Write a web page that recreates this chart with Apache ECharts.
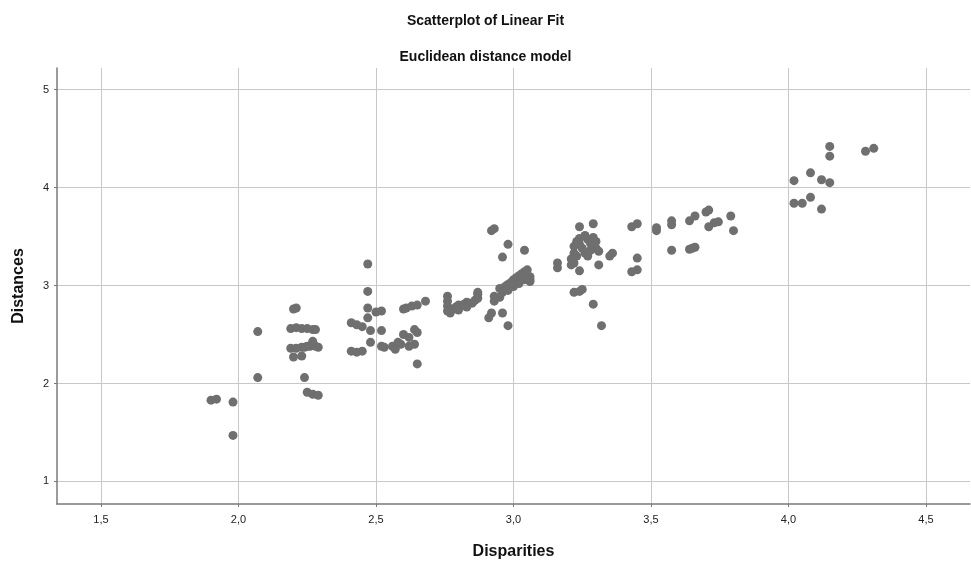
<!DOCTYPE html>
<html>
<head>
<meta charset="utf-8">
<script src="https://cdn.jsdelivr.net/npm/echarts@6/dist/echarts.min.js"></script>
<style>
html,body{margin:0;padding:0;background:#fff;}
#chart{width:971px;height:565px;}
</style>
</head>
<body>
<div id="chart"></div>
<script>
// left to right by cluster
const disparities=[
  1.90,1.92,1.98,1.98,2.07,2.07,2.20,2.21,
  2.19,2.21,2.23,2.25,2.27,2.28,
  2.19,2.21,2.23,2.24,2.25,2.26,2.27,2.28,2.29,2.27,
  2.20,2.23,2.24,2.25,2.27,2.29,
  2.47,2.47,2.47,2.52,2.50,2.47,2.41,2.43,2.45,2.48,2.52,2.48,2.52,2.53,2.41,2.43,2.45,
  2.60,2.61,2.63,2.65,2.68,
  2.56,2.57,2.59,2.60,2.62,2.64,2.65,2.64,2.62,2.58,2.65,
  2.76,2.76,2.76,2.76,2.77,2.78,2.79,2.80,2.81,2.82,2.83,2.84,2.85,2.86,2.87,2.87,2.87,2.83,2.80,
  2.92,2.93,2.98,3.04,2.96,2.93,2.93,2.92,2.91,2.96,2.98,3.06,
  2.95,2.97,2.98,2.99,3.00,3.01,3.02,3.03,3.04,3.05,2.96,2.98,3.00,3.02,3.04,3.06,3.06,2.95,
  3.16,3.16,
  3.21,3.22,3.22,3.23,3.24,3.26,3.27,3.28,3.29,3.30,3.31,3.30,3.29,3.25,3.26,3.27,3.23,3.22,3.28,3.24,
  3.24,3.29,3.24,3.31,3.21,3.35,3.36,3.43,3.45,3.45,3.43,3.45,3.52,3.52,3.575,3.575,3.575,3.22,3.24,3.25,3.29,3.32,
  3.64,3.66,3.71,3.70,3.71,3.73,3.745,3.79,3.80,3.64,3.66,3.65,
  4.02,4.05,4.15,4.15,4.28,4.31,4.02,4.08,4.12,4.15,4.08,4.12
];
const distances=[
  1.83,1.84,1.81,1.47,2.53,2.06,2.76,2.77,
  2.56,2.57,2.56,2.56,2.55,2.55,
  2.36,2.36,2.37,2.37,2.38,2.38,2.39,2.38,2.37,2.43,
  2.27,2.28,2.06,1.91,1.89,1.88,
  3.22,2.94,2.77,2.74,2.73,2.67,2.62,2.60,2.58,2.54,2.54,2.42,2.38,2.37,2.33,2.32,2.33,
  2.76,2.77,2.79,2.80,2.84,
  2.38,2.35,2.40,2.50,2.47,2.55,2.52,2.40,2.38,2.42,2.20,
  2.89,2.84,2.79,2.74,2.72,2.76,2.78,2.80,2.79,2.81,2.83,2.82,2.82,2.85,2.87,2.91,2.93,2.78,2.75,
  3.56,3.58,3.42,3.36,3.29,2.89,2.84,2.72,2.67,2.72,2.59,3.06,
  2.97,2.99,3.01,3.03,3.06,3.08,3.10,3.12,3.14,3.16,2.93,2.95,2.99,3.02,3.06,3.09,3.04,2.88,
  3.23,3.18,
  3.27,3.33,3.40,3.45,3.48,3.51,3.47,3.43,3.40,3.38,3.35,3.45,3.49,3.38,3.33,3.30,3.30,3.23,3.36,3.42,
  3.60,3.63,3.15,3.21,3.21,3.30,3.33,3.60,3.63,3.28,3.14,3.16,3.59,3.56,3.66,3.62,3.36,2.93,2.94,2.96,2.81,2.59,
  3.66,3.71,3.77,3.75,3.60,3.64,3.65,3.71,3.56,3.37,3.39,3.38,
  3.84,3.84,4.42,4.32,4.37,4.40,4.07,4.15,4.08,4.05,3.90,3.78
];
const xTicks=[1.5,2.0,2.5,3.0,3.5,4.0,4.5];
const yTicks=[1,2,3,4,5];

const points=disparities.map((d,i)=>[d,distances[i]]);
const font='"Liberation Sans", Arial, sans-serif';
const chart=echarts.init(document.getElementById('chart'));
chart.setOption({
  animation:false,
  backgroundColor:'#fff',
  title:[
    {text:'Scatterplot of Linear Fit',left:'center',top:9,
     textStyle:{fontFamily:font,fontSize:14,fontWeight:'bold',color:'#111'}},
    {text:'Euclidean distance model',left:'center',top:45,
     textStyle:{fontFamily:font,fontSize:14,fontWeight:'bold',color:'#111'}}
  ],
  grid:{left:57,right:1,top:68,bottom:61,containLabel:false,outerBoundsMode:'none'},
  xAxis:{
    type:'value',min:1.34,max:4.66,
    name:'Disparities',nameLocation:'middle',nameGap:40,
    nameTextStyle:{fontFamily:font,fontSize:16,fontWeight:'bold',color:'#111'},
    axisLine:{lineStyle:{color:'#7a7a7a',width:1.5}},
    axisTick:{show:true,length:3,lineStyle:{color:'#7a7a7a'},customValues:xTicks},
    axisLabel:{customValues:xTicks,fontFamily:font,fontSize:11,color:'#222',margin:10,
      formatter:v=>v.toFixed(1).replace('.',',')},
    splitLine:{show:true,lineStyle:{color:'#c8c8c8',width:1}}
  },
  yAxis:{
    type:'value',min:0.77,max:5.22,
    name:'Distances',nameLocation:'middle',nameGap:30,
    nameTextStyle:{fontFamily:font,fontSize:16,fontWeight:'bold',color:'#111'},
    axisLine:{show:true,lineStyle:{color:'#7a7a7a',width:1.5}},
    axisTick:{show:true,length:3,lineStyle:{color:'#7a7a7a'},customValues:yTicks},
    axisLabel:{customValues:yTicks,fontFamily:font,fontSize:11,color:'#222',margin:8,
      formatter:v=>String(Math.round(v))},
    splitLine:{show:true,lineStyle:{color:'#c8c8c8',width:1}}
  },
  series:[{
    type:'scatter',
    data:points,
    symbol:'circle',
    symbolSize:9,
    itemStyle:{color:'#6f6f6f',opacity:1}
  }]
});
</script>
</body>
</html>
